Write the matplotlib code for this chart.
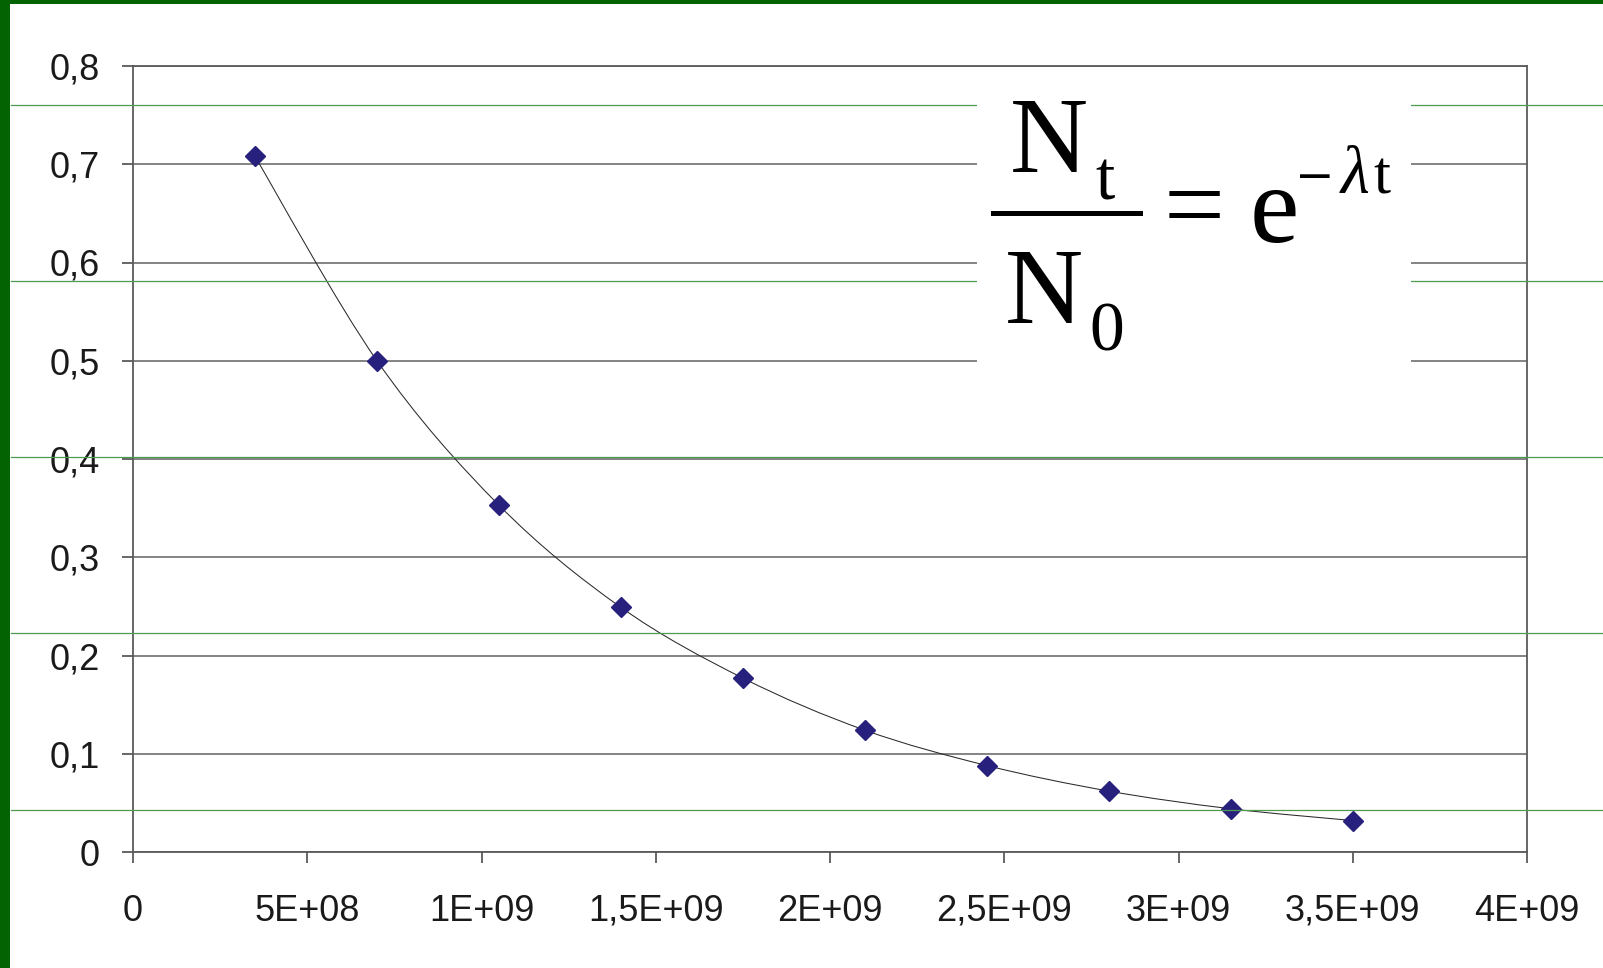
import numpy as np
import matplotlib
matplotlib.use("Agg")
import matplotlib.pyplot as plt
from matplotlib.path import Path
from matplotlib.patches import PathPatch, Rectangle
from matplotlib.lines import Line2D

# ---- data ----
time_values = [3.5e8, 7.0e8, 1.05e9, 1.4e9, 1.75e9, 2.1e9, 2.45e9, 2.8e9, 3.15e9, 3.5e9]
ratio_values = [0.708, 0.500, 0.353, 0.249, 0.177, 0.124, 0.088, 0.062, 0.044, 0.032]
x_ticks = [0, 5e8, 1e9, 1.5e9, 2e9, 2.5e9, 3e9, 3.5e9, 4e9]
x_tick_labels = ["0", "5E+08", "1E+09", "1,5E+09", "2E+09", "2,5E+09", "3E+09", "3,5E+09", "4E+09"]
y_ticks = [0, 0.1, 0.2, 0.3, 0.4, 0.5, 0.6, 0.7, 0.8]
y_tick_labels = ["0", "0,1", "0,2", "0,3", "0,4", "0,5", "0,6", "0,7", "0,8"]

W, H = 1603, 968
fig = plt.figure(figsize=(W / 100, H / 100), dpi=100)
fig.patch.set_facecolor("white")

def fx(x):
    return x / W

def fy(y):
    return 1 - y / H

# axes placement (pixels: left 133, right 1527, top 66, bottom 852)
ax = fig.add_axes([fx(133), fy(852), fx(1527) - fx(133), fy(66) - fy(852)])
ax.set_xlim(0, 4e9)
ax.set_ylim(0, 0.8)
ax.set_facecolor("white")

frame_col = "#5a5a5a"
for s in ax.spines.values():
    s.set_color(frame_col)
    s.set_linewidth(1.3)

ax.set_xticks(x_ticks)
ax.set_xticklabels(x_tick_labels)
ax.set_yticks(y_ticks)
ax.set_yticklabels(y_tick_labels)
ax.tick_params(axis="both", direction="out", length=8, width=1.3, color=frame_col,
               labelsize=26, labelcolor="#1a1a1a")
ax.tick_params(axis="x", pad=22)
ax.tick_params(axis="y", pad=16)
for lab in ax.get_xticklabels() + ax.get_yticklabels():
    lab.set_fontfamily("Liberation Sans")

ax.grid(axis="y", color="#6e6e6e", linewidth=1.2)
ax.set_axisbelow(True)

# smooth (Excel-like) curve through the data points using Bezier segments
xs = np.array(time_values)
ys = np.array(ratio_values)
n = len(xs)
verts = [(xs[0], ys[0])]
codes = [Path.MOVETO]
for i in range(n - 1):
    p0 = np.array([xs[max(i - 1, 0)], ys[max(i - 1, 0)]])
    p1 = np.array([xs[i], ys[i]])
    p2 = np.array([xs[i + 1], ys[i + 1]])
    p3 = np.array([xs[min(i + 2, n - 1)], ys[min(i + 2, n - 1)]])
    c1 = p1 + (p2 - p0) / 6.0
    c2 = p2 - (p3 - p1) / 6.0
    verts += [tuple(c1), tuple(c2), tuple(p2)]
    codes += [Path.CURVE4, Path.CURVE4, Path.CURVE4]
ax.add_patch(PathPatch(Path(verts, codes), facecolor="none", edgecolor="#2a2a2a",
                       linewidth=0.75, zorder=3))

ax.plot(time_values, ratio_values, linestyle="none", marker="D", markersize=10,
        color="#27207d", markeredgecolor="#27207d", zorder=4)

# background slide decoration: thin green horizontal lines across the whole picture
for yy in [105, 281, 457, 633, 810]:
    fig.add_artist(Line2D([fx(11), 1], [fy(yy), fy(yy)], color="#4f9a4f", linewidth=0.9,
                          zorder=5))

# green border (left and top)
fig.add_artist(Rectangle((0, 0), fx(10), 1, facecolor="#036303", edgecolor="none", zorder=10))
fig.add_artist(Rectangle((0, fy(4)), 1, fy(0) - fy(4), facecolor="#036303", edgecolor="none",
                         zorder=10))

# formula box (white) covering grid lines
fig.add_artist(Rectangle((fx(977), fy(395)), fx(1411) - fx(977), fy(88) - fy(395),
                         facecolor="white", edgecolor="none", zorder=6))

serif = "Liberation Serif"
def ftext(x, y, s, size, family=serif, **kw):
    fig.text(fx(x), fy(y), s, fontsize=size, family=family, va="baseline", ha="left",
             color="black", zorder=7, **kw)

ftext(1010, 172, "N", 78)
ftext(1095, 199, "t", 50)
ftext(1005, 323, "N", 78)
ftext(1089, 351, "0", 50)
fig.add_artist(Line2D([fx(993), fx(1140)], [fy(213), fy(213)], color="black", linewidth=3.6,
                      zorder=7))
ftext(1164, 240, "=", 78)
ftext(1250, 242, "e", 80)
ftext(1295, 191, "\u2212", 34, family="DejaVu Serif")
ftext(1341, 193, "\u03bb", 48, style="italic")
ftext(1373, 193, "t", 44)

fig.savefig("out.png", dpi=100, facecolor="white")
